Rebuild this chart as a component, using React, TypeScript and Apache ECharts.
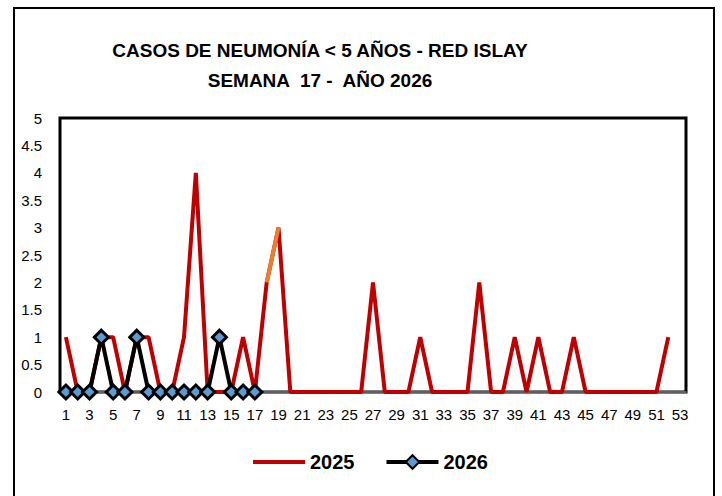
import React, { useEffect, useRef } from "react";
import * as echarts from "echarts";

const weeks: string[] = Array.from({ length: 53 }, (_, i) => String(i + 1));

const cases2025: (number | null)[] = [
  1, 0, 0, 1, 1, 0, 1, 1, 0, 0, 1, 4, 0, 0, 0, 1, 0, 2, 3, 0,
  0, 0, 0, 0, 0, 0, 2, 0, 0, 0, 1, 0, 0, 0, 0, 2, 0, 0, 1, 0,
  1, 0, 0, 1, 0, 0, 0, 0, 0, 0, 0, 1, null,
];

const cases2026: (number | null)[] = [
  0, 0, 0, 1, 0, 0, 1, 0, 0, 0, 0, 0, 0, 1, 0, 0, 0,
];

// highlighted segment of 2025 (weeks 18-19)
const highlight2025: (number | null)[] = cases2025.map((v, i) =>
  i === 17 || i === 18 ? v : null
);

const titleLines = ["CASOS DE NEUMONÍA < 5 AÑOS - RED ISLAY", "SEMANA  17 -  AÑO 2026"];

export default function App() {
  const ref = useRef<HTMLDivElement>(null);
  useEffect(() => {
    document.body.style.margin = "0";
    if (!ref.current) return;
    const chart = echarts.init(ref.current, undefined, { renderer: "svg" });
    const font = "'Liberation Sans', Arial, sans-serif";
    chart.setOption({
      animation: false,
      backgroundColor: "#ffffff",
      textStyle: { fontFamily: font },
      title: {
        text: titleLines.join("\n"),
        left: 315,
        top: 30,
        textAlign: "center",
        textStyle: {
          fontFamily: font,
          fontSize: 19,
          fontWeight: "bold",
          color: "#000",
          lineHeight: 30,
        },
      },
      graphic: [
        {
          type: "rect",
          shape: { x: 14, y: 8, width: 700, height: 500 },
          style: { fill: "none", stroke: "#000", lineWidth: 2 },
          silent: true,
        },
      ],
      legend: {
        data: [
          { name: "2025", icon: "path://M0,0H52V4H0Z" },
          { name: "2026", lineStyle: { width: 4, color: "#000" } },
        ],
        left: 248,
        top: 447,
        itemWidth: 52,
        itemHeight: 17,
        itemGap: 30,
        textStyle: { fontFamily: font, fontSize: 20, fontWeight: "bold", color: "#000" },
      },
      grid: {
        left: 60,
        right: 36,
        top: 118,
        bottom: 104,
        show: true,
        borderColor: "#000",
        borderWidth: 3,
        containLabel: false,
      },
      xAxis: {
        type: "category",
        data: weeks,
        boundaryGap: true,
        axisLine: { show: true, lineStyle: { color: "#7f7f7f", width: 1.5 } },
        axisTick: { show: false },
        axisLabel: {
          interval: 1,
          margin: 15,
          color: "#000",
          fontSize: 15,
          fontFamily: font,
        },
        splitLine: { show: false },
      },
      yAxis: {
        type: "value",
        min: 0,
        max: 5,
        interval: 0.5,
        axisLine: { show: false },
        axisTick: { show: false },
        splitLine: { show: false },
        axisLabel: { color: "#000", fontSize: 15, margin: 18, fontFamily: font },
      },
      series: [
        {
          name: "2025",
          type: "line",
          data: cases2025,
          symbol: "none",
          color: "#c00000",
          lineStyle: { color: "#c00000", width: 4 },
          z: 2,
        },
        {
          name: "2025 tramo",
          type: "line",
          data: highlight2025,
          symbol: "none",
          color: "#ed7d31",
          lineStyle: { color: "#ed7d31", width: 4 },
          z: 3,
        },
        {
          name: "2026",
          type: "line",
          data: cases2026,
          symbol: "diamond",
          symbolSize: 14,
          showAllSymbol: true,
          color: "#000",
          itemStyle: { color: "#5b9bd5", borderColor: "#000", borderWidth: 3 },
          lineStyle: { color: "#000", width: 4 },
          z: 4,
        },
      ],
    });
    return () => chart.dispose();
  }, []);
  return <div ref={ref} style={{ width: 722, height: 496 }} />;
}
